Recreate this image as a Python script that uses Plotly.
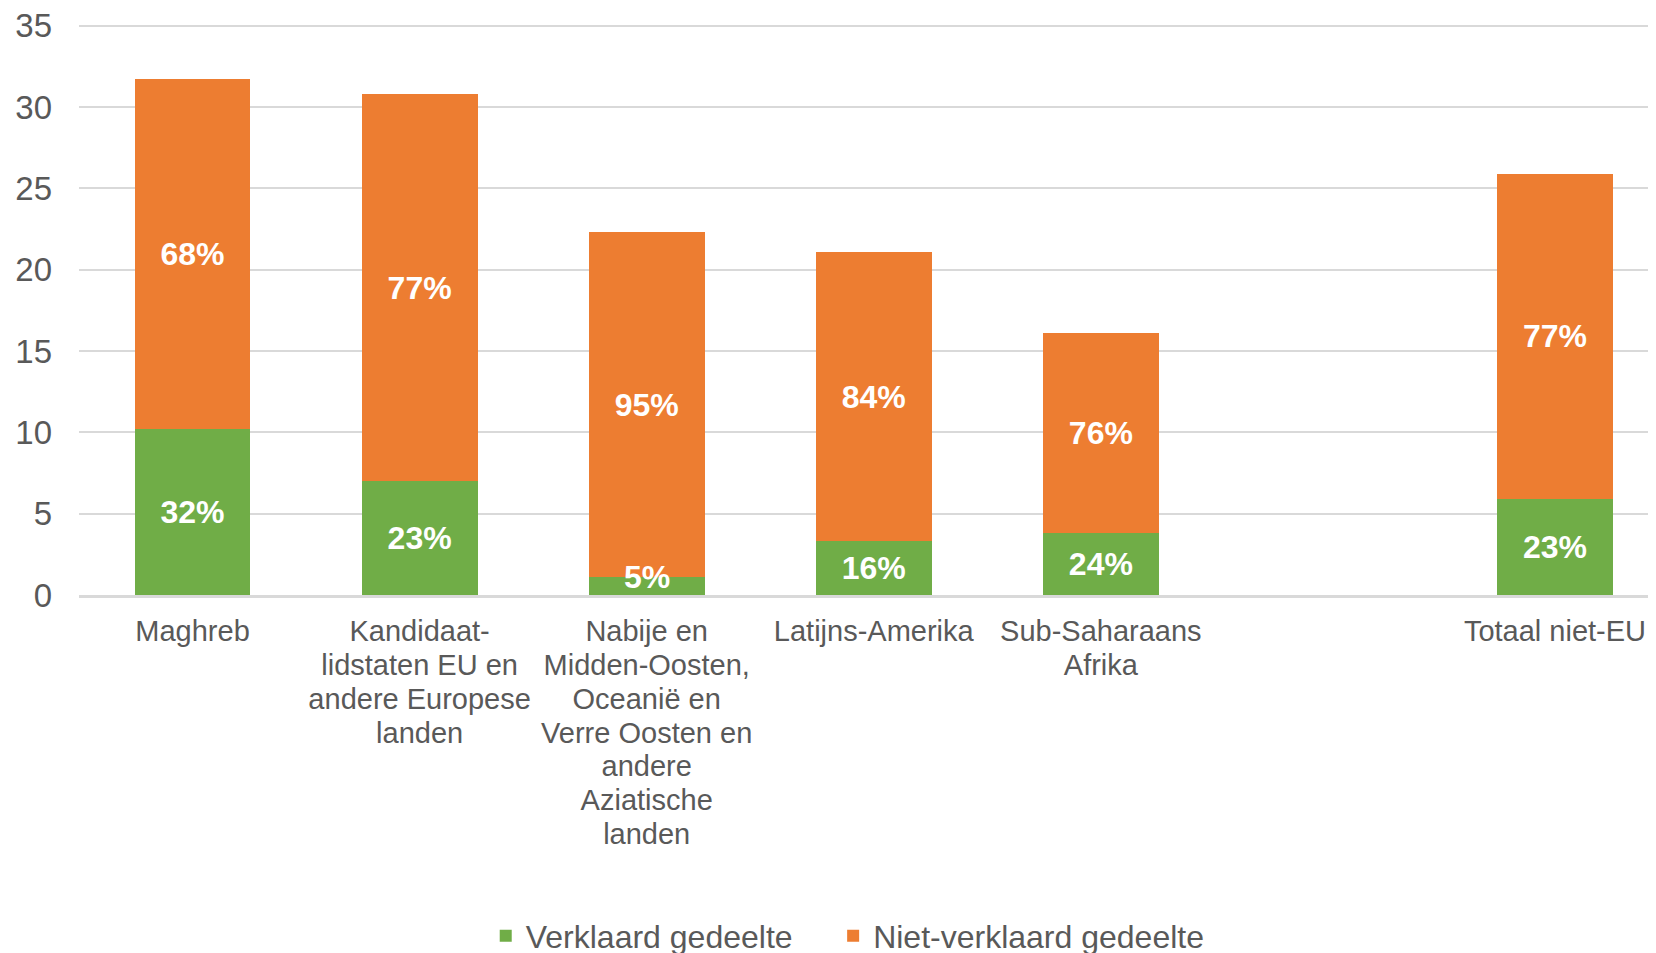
import plotly.graph_objects as go

# Data
categories = [
    "Maghreb",
    "Kandidaat-<br>lidstaten EU en<br>andere Europese<br>landen",
    "Nabije en<br>Midden-Oosten,<br>Oceanië en<br>Verre Oosten en<br>andere<br>Aziatische<br>landen",
    "Latijns-Amerika",
    "Sub-Saharaans<br>Afrika",
    " ",
    "Totaal niet-EU",
]
verklaard = [10.2, 7.0, 1.1, 3.3, 3.8, None, 5.9]
niet_verklaard = [21.5, 23.8, 21.2, 17.8, 12.3, None, 20.0]
verklaard_pct = ["32%", "23%", "5%", "16%", "24%", "", "23%"]
niet_verklaard_pct = ["68%", "77%", "95%", "84%", "76%", "", "77%"]
series_names = ["Verklaard gedeelte", "Niet-verklaard gedeelte"]

GREEN = "#70AD47"
ORANGE = "#ED7D31"
GREY = "#595959"
FONT = "Liberation Sans, Arial, sans-serif"
LABEL_FONT = dict(color="white", size=32, family=FONT, weight="bold")


def tight_label(text, size=29):
    # bigger glyphs on a tighter line pitch, like the Excel original
    return "<br>".join(f"<span style='font-size:{size}px'>{part}</span>"
                       for part in text.split("<br>"))


# segments too thin to hold their label get it placed on their top edge
thin = [v is not None and v < 2 for v in verklaard]
green_text = ["" if t else p for t, p in zip(thin, verklaard_pct)]

fig = go.Figure()
fig.add_trace(go.Bar(
    name=series_names[0] + "\u00a0" * 4,  # wider gap before next legend item
    x=categories, y=verklaard,
    marker=dict(color=GREEN, line=dict(width=0)),
    text=green_text, textposition="inside", insidetextanchor="middle",
    constraintext="none", textfont=LABEL_FONT, hoverinfo="skip",
))
fig.add_trace(go.Bar(
    name=series_names[1], x=categories, y=niet_verklaard,
    marker=dict(color=ORANGE, line=dict(width=0)),
    text=niet_verklaard_pct, textposition="inside", insidetextanchor="middle",
    constraintext="none", textfont=LABEL_FONT, hoverinfo="skip",
))

for cat, val, pct, t in zip(categories, verklaard, verklaard_pct, thin):
    if t:
        fig.add_annotation(x=cat, y=val, text=pct, showarrow=False,
                           yanchor="middle", font=LABEL_FONT)

# the page body adds an 8px offset; right/bottom overflow is cut like the original
fig.update_layout(
    barmode="stack",
    bargap=0.49,
    width=1656, height=953,
    margin=dict(l=71, r=0, t=16, b=366, autoexpand=False),
    paper_bgcolor="white", plot_bgcolor="white",
    font=dict(family=FONT, color=GREY, size=26),
    showlegend=True,
    legend=dict(
        orientation="h", x=0.485, xanchor="center", y=-0.597, yanchor="middle",
        font=dict(size=32, color=GREY), itemwidth=30, traceorder="normal",
    ),
)
fig.update_yaxes(
    range=[0, 35.1], dtick=5, showgrid=True, gridcolor="#D9D9D9", gridwidth=2,
    zeroline=False, showline=False, ticks="", ticklabelstandoff=26,
    tickfont=dict(size=33, color=GREY), automargin=False,
    ticklabeloverflow="allow",
)
fig.update_xaxes(
    categoryorder="array", categoryarray=categories, range=[-0.5, 6.48],
    tickvals=categories, ticktext=[tight_label(c) for c in categories],
    showline=True, linecolor="#D9D9D9", linewidth=3, ticks="",
    ticklabelstandoff=12, tickfont=dict(size=26, color=GREY), tickangle=0,
    automargin=False, ticklabeloverflow="allow",
)

fig.write_html("out.html")
